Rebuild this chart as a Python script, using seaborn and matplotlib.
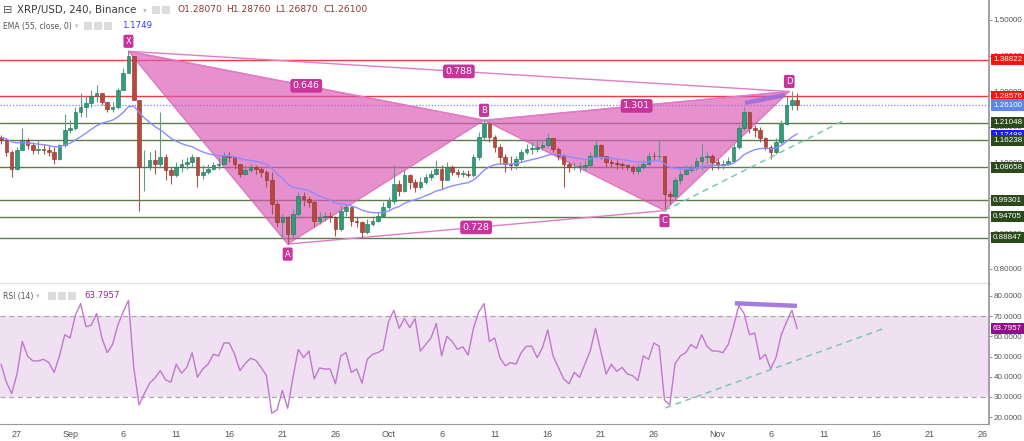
import numpy as np
import pandas as pd
import matplotlib
matplotlib.use("Agg")
import matplotlib.pyplot as plt
import matplotlib.dates as mdates
import matplotlib.transforms as mtransforms
from matplotlib.patches import Polygon, Rectangle
import seaborn as sns

sns.set_style("white")
plt.rcParams['font.family'] = ['DejaVu Sans']
NARROW = ['Liberation Sans', 'DejaVu Sans']

# ---------------- data (12h candles, XRP/USD) ----------------
candle_start = "2017-08-25 12:00"
first_open = 1.171
close = [1.162, 1.129, 1.082, 1.134, 1.162, 1.148, 1.134, 1.138, 1.134, 1.129,
         1.110, 1.148, 1.190, 1.195, 1.242, 1.256, 1.266, 1.285, 1.294, 1.270,
         1.251, 1.256, 1.303, 1.350, 1.398, 1.275, 1.086, 1.086, 1.105, 1.096,
         1.115, 1.077, 1.063, 1.086, 1.096, 1.101, 1.115, 1.063, 1.072, 1.082,
         1.091, 1.096, 1.119, 1.115, 1.096, 1.068, 1.077, 1.086, 1.082, 1.072,
         1.049, 0.983, 0.931, 0.945, 0.898, 0.954, 1.006, 0.997, 0.987, 0.936,
         0.945, 0.950, 0.945, 0.912, 0.964, 0.973, 0.936, 0.931, 0.903, 0.926,
         0.936, 0.950, 0.973, 0.992, 1.039, 1.020, 1.063, 1.044, 1.030, 1.044,
         1.058, 1.068, 1.082, 1.049, 1.086, 1.072, 1.068, 1.068, 1.063, 1.115,
         1.171, 1.209, 1.171, 1.143, 1.115, 1.096, 1.091, 1.110, 1.129, 1.138,
         1.138, 1.143, 1.148, 1.167, 1.138, 1.119, 1.096, 1.086, 1.088, 1.088,
         1.091, 1.119, 1.148, 1.119, 1.101, 1.098, 1.094, 1.091, 1.086, 1.075,
         1.086, 1.096, 1.119, 1.117, 1.119, 1.011, 1.006, 1.049, 1.068, 1.077,
         1.085, 1.103, 1.115, 1.119, 1.101, 1.091, 1.094, 1.103, 1.143, 1.195,
         1.242, 1.195, 1.190, 1.167, 1.143, 1.129, 1.157, 1.209, 1.261, 1.275,
         1.261]
high = [1.176, 1.167, 1.134, 1.143, 1.195, 1.167, 1.157, 1.162, 1.152, 1.148,
        1.143, 1.152, 1.237, 1.218, 1.256, 1.294, 1.285, 1.303, 1.318, 1.294,
        1.270, 1.270, 1.308, 1.365, 1.412, 1.379, 1.275, 1.134, 1.129, 1.134,
        1.242, 1.124, 1.086, 1.101, 1.110, 1.115, 1.124, 1.115, 1.091, 1.096,
        1.101, 1.115, 1.129, 1.129, 1.110, 1.096, 1.091, 1.096, 1.091, 1.086,
        1.077, 1.072, 0.992, 0.954, 0.950, 0.969, 1.016, 1.016, 1.006, 0.992,
        0.959, 0.959, 0.959, 0.950, 0.978, 0.983, 0.969, 0.945, 0.936, 0.940,
        0.950, 0.959, 0.987, 1.002, 1.091, 1.049, 1.077, 1.068, 1.053, 1.058,
        1.068, 1.077, 1.105, 1.091, 1.101, 1.091, 1.082, 1.077, 1.077, 1.124,
        1.185, 1.218, 1.214, 1.176, 1.152, 1.124, 1.119, 1.119, 1.138, 1.152,
        1.157, 1.162, 1.162, 1.181, 1.162, 1.143, 1.124, 1.101, 1.101, 1.101,
        1.105, 1.129, 1.162, 1.152, 1.119, 1.110, 1.105, 1.101, 1.096, 1.091,
        1.096, 1.105, 1.129, 1.129, 1.162, 1.119, 1.020, 1.058, 1.077, 1.091,
        1.096, 1.115, 1.152, 1.129, 1.124, 1.110, 1.105, 1.115, 1.152, 1.204,
        1.256, 1.242, 1.204, 1.200, 1.171, 1.148, 1.167, 1.218, 1.285, 1.299,
        1.294]
low = [1.152, 1.119, 1.058, 1.077, 1.134, 1.138, 1.124, 1.124, 1.124, 1.119,
       1.096, 1.105, 1.143, 1.181, 1.190, 1.228, 1.228, 1.256, 1.270, 1.261,
       1.242, 1.242, 1.251, 1.303, 1.350, 1.275, 0.964, 1.020, 1.077, 1.068,
       1.086, 1.049, 1.039, 1.058, 1.072, 1.082, 1.086, 1.030, 1.053, 1.068,
       1.077, 1.082, 1.096, 1.101, 1.082, 1.058, 1.063, 1.072, 1.068, 1.058,
       1.030, 0.954, 0.917, 0.888, 0.870, 0.888, 0.945, 0.978, 0.973, 0.917,
       0.926, 0.936, 0.931, 0.893, 0.907, 0.950, 0.921, 0.917, 0.888, 0.898,
       0.921, 0.931, 0.945, 0.969, 0.983, 1.006, 1.016, 1.025, 1.016, 1.025,
       1.039, 1.049, 1.063, 1.025, 1.049, 1.063, 1.058, 1.058, 1.058, 1.058,
       1.105, 1.162, 1.157, 1.129, 1.096, 1.072, 1.077, 1.082, 1.101, 1.124,
       1.124, 1.129, 1.134, 1.143, 1.129, 1.105, 1.030, 1.072, 1.077, 1.072,
       1.077, 1.086, 1.115, 1.110, 1.086, 1.086, 1.082, 1.082, 1.077, 1.066,
       1.068, 1.082, 1.091, 1.105, 1.105, 0.964, 0.983, 0.997, 1.039, 1.063,
       1.072, 1.077, 1.077, 1.096, 1.077, 1.082, 1.082, 1.091, 1.101, 1.138,
       1.190, 1.181, 1.171, 1.157, 1.134, 1.110, 1.124, 1.152, 1.204, 1.247,
       1.247]
rsi_values = [46.2, 37.3, 31.6, 41.3, 57.5, 50.2, 47.8, 47.8, 48.6, 47.0,
              42.1, 50.2, 60.8, 59.2, 70.5, 76.2, 64.8, 65.6, 71.3, 59.2,
              51.9, 55.9, 65.6, 72.1, 77.8, 44.6, 26.0, 31.6, 36.8, 39.4,
              43.0, 38.4, 37.3, 46.2, 41.7, 44.6, 51.9, 39.7, 43.8, 46.2,
              51.1, 50.3, 56.7, 56.7, 51.1, 43.0, 46.5, 49.1, 48.1, 44.6,
              40.5, 21.9, 23.5, 33.2, 24.3, 39.7, 53.5, 49.4, 52.7, 38.9,
              44.3, 43.8, 43.8, 36.5, 50.3, 51.9, 42.1, 43.8, 36.8, 48.6,
              51.1, 51.9, 53.5, 67.2, 72.9, 64.0, 68.9, 64.3, 68.9, 52.7,
              55.9, 59.2, 66.4, 50.3, 60.0, 57.5, 53.5, 54.8, 50.7, 64.0,
              72.1, 76.2, 57.5, 59.2, 49.4, 45.4, 47.0, 46.2, 51.9, 55.1,
              55.1, 49.4, 54.3, 63.2, 50.3, 44.6, 38.9, 36.5, 42.1, 39.7,
              46.2, 52.7, 64.0, 52.7, 41.3, 46.2, 42.6, 44.6, 41.3, 40.5,
              38.1, 50.3, 48.6, 56.7, 55.1, 28.4, 26.0, 46.5, 50.3, 51.9,
              55.9, 54.0, 60.8, 55.1, 52.7, 52.7, 51.9, 55.9, 64.8, 75.3,
              71.3, 60.8, 61.6, 48.6, 51.1, 43.8, 49.4, 60.8, 67.2, 72.9,
              63.8]
ema_seed = 1.171
ema_span = 18.4   # EMA(55) on 4h bars, expressed in 12h bars

level_values = [1.38822, 1.28576, 1.26100, 1.21048, 1.17488, 1.16238,
                1.08658, 0.99301, 0.94705, 0.88847]
level_kinds = ['red', 'red', 'last', 'green', 'ema', 'green',
               'green', 'green', 'green', 'green']

pattern_names = ['X', 'A', 'B', 'C', 'D']
pattern_times = ['2017-09-06 12:00', '2017-09-21 12:00', '2017-10-10 00:00',
                 '2017-10-27 00:00', '2017-11-07 18:00']
pattern_prices = [1.412, 0.870, 1.218, 0.964, 1.299]
ratio_pairs = [('X', 'B'), ('A', 'C'), ('B', 'D'), ('X', 'D')]
ratio_labels = ['0.646', '0.728', '1.301', '0.788']

trend_price_times = ['2017-10-27 00:00', '2017-11-13 00:00']
trend_price_vals = [0.964, 1.219]
trend_rsi_times = ['2017-10-27 02:00', '2017-11-16 18:30']
trend_rsi_vals = [24.5, 64.1]
div_price_times = ['2017-11-03 14:00', '2017-11-07 08:30']
div_price_vals = [1.2667, 1.2891]
div_rsi_times = ['2017-11-02 15:00', '2017-11-08 11:30']
div_rsi_vals = [76.4, 75.1]

tick_dates = ['2017-08-27', '2017-09-01', '2017-09-06', '2017-09-11', '2017-09-16',
              '2017-09-21', '2017-09-26', '2017-10-01', '2017-10-06', '2017-10-11',
              '2017-10-16', '2017-10-21', '2017-10-26', '2017-11-01', '2017-11-06',
              '2017-11-11', '2017-11-16', '2017-11-21', '2017-11-26']
tick_labels = ['27', 'Sep', '6', '11', '16', '21', '26', 'Oct', '6', '11', '16',
               '21', '26', 'Nov', '6', '11', '16', '21', '26']
price_ticks = [0.8, 0.9, 1.0, 1.1, 1.2, 1.3, 1.4, 1.5]
rsi_ticks = [20, 30, 40, 50, 60, 70, 80]

# ---------------- helpers ----------------
def dn(s):
    return mdates.date2num(pd.Timestamp(s).to_pydatetime())

W, H = 1024, 441
fig = plt.figure(figsize=(W / 100, H / 100), dpi=100)
fig.patch.set_facecolor('white')
ax1 = fig.add_axes([0, 1 - 284 / H, 989 / W, 284 / H])
ax2 = fig.add_axes([0, 1 - 424 / H, 989 / W, 140 / H])

times = pd.date_range(candle_start, periods=len(close), freq="12h")
t = mdates.date2num(times.to_pydatetime())
c = np.array(close)
o = np.array([first_open] + close[:-1])
h = np.maximum(np.array(high), np.maximum(o, c))
l = np.minimum(np.array(low), np.minimum(o, c))

xmin, xmax = dn('2017-08-25 09:36'), dn('2017-11-26 13:40')
for ax in (ax1, ax2):
    ax.set_xlim(xmin, xmax)
    ax.set_facecolor('white')
ax1.set_ylim(0.7578, 1.5562)
ax2.set_ylim(16.53, 85.95)

# ---------------- price pane ----------------
UP, DOWN = '#2f9c7a', '#b8483a'
UP_E, DOWN_E = '#1f6e55', '#8a3027'

for v, k in zip(level_values, level_kinds):
    if k == 'red':
        ax1.axhline(v, color='#f23b3b', lw=1.0, zorder=2)
    elif k == 'green':
        ax1.axhline(v, color='#5c7d48', lw=1.0, zorder=2)
    elif k == 'last':
        ax1.axhline(v, color='#6c86e6', lw=0.9, ls=(0, (1, 1.5)), zorder=2)

# harmonic pattern
pt = {n: (dn(s), p) for n, s, p in zip(pattern_names, pattern_times, pattern_prices)}
fill_col = '#d957b5'
for tri in (('X', 'A', 'B'), ('B', 'C', 'D')):
    poly = Polygon([pt[n] for n in tri], closed=True, fc=fill_col, alpha=0.66,
                   ec='#d65aae', lw=1.0, zorder=3)
    ax1.add_patch(poly)
for (a, b), lab in zip(ratio_pairs, ratio_labels):
    xa, ya = pt[a]
    xb, yb = pt[b]
    ax1.plot([xa, xb], [ya, yb], color='#e27cc6', lw=1.0, zorder=3.2)
    ax1.text((xa + xb) / 2, (ya + yb) / 2, lab, ha='center', va='center',
             fontsize=6.8, color='white', zorder=9,
             bbox=dict(boxstyle='round,pad=0.25,rounding_size=0.25', fc='#c9339c', ec='none'))
for n in pattern_names:
    x, y = pt[n]
    off = 10 if n in ('X', 'B', 'D') else -10
    ax1.annotate(n, (x, y), xytext=(0, off), textcoords='offset pixels',
                 ha='center', va='center', fontsize=6, color='white', zorder=9,
                 bbox=dict(boxstyle='round,pad=0.25,rounding_size=0.2', fc='#c9339c', ec='none'))

# candles
up = c >= o
ax1.vlines(t, l, h, colors=np.where(up, '#5e9c88', '#a0584d'), lw=0.8, zorder=4)
ax1.bar(t, np.maximum(np.abs(c - o), 0.0015), bottom=np.minimum(o, c), width=0.34,
        color=np.where(up, UP, DOWN), edgecolor=np.where(up, UP_E, DOWN_E),
        linewidth=0.4, zorder=5)

# EMA(55)
ema = pd.Series([ema_seed] + close).ewm(span=ema_span, adjust=False).mean().values[1:]
sns.lineplot(x=t, y=ema, ax=ax1, color='#8c8cff', lw=1.0, zorder=6, legend=False)

# trend lines
ax1.plot([dn(s) for s in trend_price_times], trend_price_vals, color='#7cc7b4',
         lw=1.1, ls=(0, (4, 3)), zorder=6)
ax1.plot([dn(s) for s in div_price_times], div_price_vals, color='#9b6fdc',
         lw=3.2, alpha=0.9, solid_capstyle='butt', zorder=7)

# axes styling
ax1.set_xticks([])
ax1.yaxis.tick_right()
ax1.set_yticks(price_ticks)
ax1.set_yticklabels([f'{v:.5f}' for v in price_ticks], family=NARROW)
ax1.tick_params(axis='y', direction='out', length=2.5, width=0.8, colors='#9a9a9a',
                labelcolor='#555555', labelsize=5.8, pad=1)
for s in ('top', 'left'):
    ax1.spines[s].set_visible(False)
ax1.spines['right'].set_color('#9a9a9a')
ax1.spines['right'].set_linewidth(1.3)
ax1.spines['bottom'].set_color('#555555')
ax1.spines['bottom'].set_linewidth(1.0)

trans1 = mtransforms.blended_transform_factory(ax1.transAxes, ax1.transData)
box_cols = {'red': '#ff1010', 'last': '#5b87ea', 'green': '#2b4a1b', 'ema': '#1a1aff'}
for v, k in zip(level_values, level_kinds):
    ax1.text(1.004, v, f'{v:.5f}', transform=trans1, ha='left', va='center',
             fontsize=5.8, color='white', zorder=20, clip_on=False, family=NARROW,
             bbox=dict(boxstyle='square,pad=0.25', fc=box_cols[k], ec='none'))

# ---------------- RSI pane ----------------
ax2.axhspan(30, 70, color='#efe1f1', zorder=1, lw=0)
for v in (70, 30):
    ax2.axhline(v, color='#a8a8a8', lw=0.9, ls=(0, (4, 3)), zorder=2)
sns.lineplot(x=t, y=rsi_values, ax=ax2, color='#c277cf', lw=1.0, zorder=5, legend=False)
ax2.plot([dn(s) for s in trend_rsi_times], trend_rsi_vals, color='#7cc7b4',
         lw=1.1, ls=(0, (4, 3)), zorder=6)
ax2.plot([dn(s) for s in div_rsi_times], div_rsi_vals, color='#9b6fdc',
         lw=3.2, alpha=0.9, solid_capstyle='butt', zorder=7)

ax2.yaxis.tick_right()
ax2.set_yticks(rsi_ticks)
ax2.set_yticklabels([f'{v:.4f}' for v in rsi_ticks], family=NARROW)
ax2.tick_params(axis='y', direction='out', length=2.5, width=0.8, colors='#9a9a9a',
                labelcolor='#555555', labelsize=5.8, pad=1)
ax2.set_xticks([dn(s) for s in tick_dates])
ax2.set_xticklabels(tick_labels, family=NARROW)
ax2.tick_params(axis='x', direction='out', length=3, width=0.8, colors='#9a9a9a',
                labelcolor='#555555', labelsize=6.5, pad=1.5)
ax2.spines['top'].set_visible(False)
ax2.spines['left'].set_visible(False)
ax2.spines['right'].set_color('#9a9a9a')
ax2.spines['right'].set_linewidth(1.3)
ax2.spines['bottom'].set_color('#9a9a9a')
for ax in (ax1, ax2):
    ax.set_xlabel('')
    ax.set_ylabel('')

trans2 = mtransforms.blended_transform_factory(ax2.transAxes, ax2.transData)
ax2.text(1.004, rsi_values[-1], '63.7957', transform=trans2, ha='left', va='center',
         fontsize=5.8, color='white', zorder=20, clip_on=False, family=NARROW,
         bbox=dict(boxstyle='square,pad=0.25', fc='#8b128b', ec='none'))

# ---------------- header texts ----------------
def ftext(x, y, s, **kw):
    fig.text(x / W, 1 - y / H, s, va='center', ha='left', **kw)

def icon(x, y, w=8, hh=8):
    fig.add_artist(Rectangle((x / W, 1 - (y + hh / 2) / H), w / W, hh / H,
                             transform=fig.transFigure, fc='#dcdcdc', ec='none'))

ftext(3, 10, '⊟', fontsize=8, color='#555555')
ftext(17, 10, 'XRP/USD, 240, Binance', fontsize=7.4, color='#3a3a3a')
ftext(143, 10, '▾', fontsize=5.5, color='#bbbbbb')
icon(152, 10); icon(162, 10)
ohlc_col = '#8c3a2b'
ftext(177, 10, 'O1.28070', fontsize=6.6, color=ohlc_col)
ftext(226, 10, 'H1.28760', fontsize=6.6, color=ohlc_col)
ftext(275, 10, 'L1.26870', fontsize=6.6, color=ohlc_col)
ftext(323, 10, 'C1.26100', fontsize=6.6, color=ohlc_col)

ftext(3, 26, 'EMA (55, close, 0)', fontsize=5.5, color='#555555')
ftext(75, 26, '▾', fontsize=5, color='#bbbbbb')
icon(84, 26); icon(94, 26); icon(104, 26)
ftext(122, 26, '1.1749', fontsize=6.2, color='#3a3aff')

ftext(3, 296, 'RSI (14)', fontsize=5.5, color='#555555')
ftext(36, 296, '▾', fontsize=5, color='#bbbbbb')
icon(48, 296); icon(58, 296); icon(68, 296)
ftext(84, 296, '63.7957', fontsize=6.2, color='#8b2b8b')

fig.savefig('out.png', dpi=100, facecolor='white')
